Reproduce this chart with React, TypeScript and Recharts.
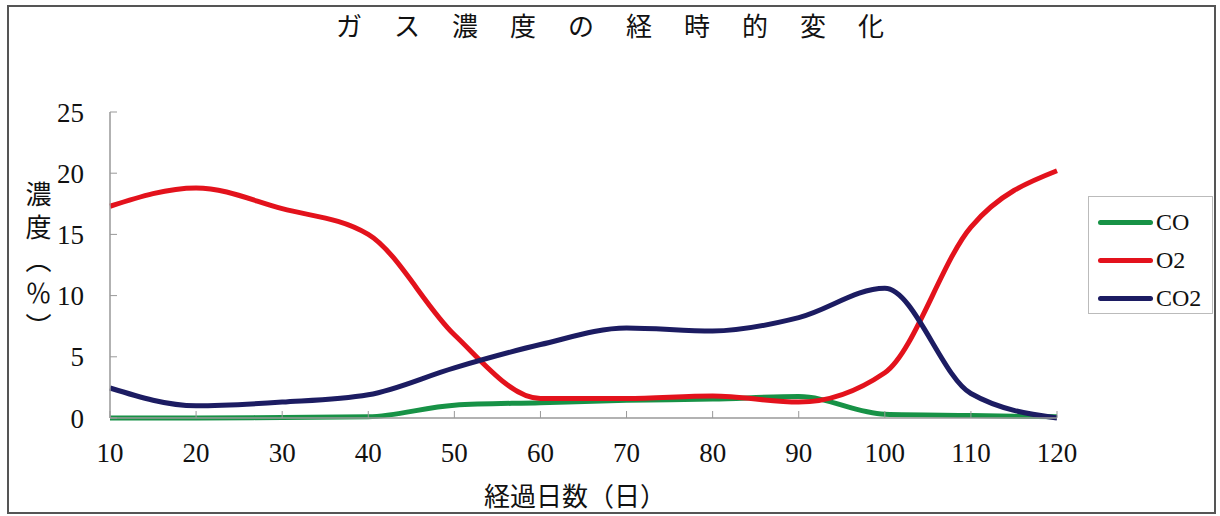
import { LineChart, Line, XAxis, YAxis, Legend } from "recharts";

const days = [10, 20, 30, 40, 50, 60, 70, 80, 90, 100, 110, 120];
const coValues = [0.0, 0.0, 0.05, 0.1, 1.05, 1.25, 1.45, 1.55, 1.75, 0.3, 0.2, 0.1];
const o2Values = [17.3, 18.8, 17.1, 15.0, 6.8, 1.6, 1.6, 1.8, 1.3, 3.7, 15.6, 20.2];
const co2Values = [2.45, 1.0, 1.3, 1.9, 4.1, 6.0, 7.35, 7.1, 8.2, 10.6, 2.0, 0.0];
const seriesNames = ["CO", "O2", "CO2"];
const xTicks = [10, 20, 30, 40, 50, 60, 70, 80, 90, 100, 110, 120];
const yTicks = [0, 5, 10, 15, 20, 25];

const data = days.map((d, i) => ({
  day: d,
  CO: coValues[i],
  O2: o2Values[i],
  CO2: co2Values[i],
}));

const FONT = "'Liberation Serif', 'Noto Sans CJK JP', serif";

function LegendBox({ payload }: any) {
  const items = [...(payload || [])].sort(
    (a: any, b: any) => seriesNames.indexOf(a.value) - seriesNames.indexOf(b.value)
  );
  return (
    <div
      style={{
        width: 125,
        height: 118,
        border: "1px solid #bbb",
        background: "#fff",
        boxSizing: "border-box",
        paddingTop: 6,
        paddingLeft: 9,
        fontFamily: FONT,
      }}
    >
      {items.map((p: any) => (
        <div
          key={p.value}
          style={{ display: "flex", alignItems: "center", height: 38 }}
        >
          <div
            style={{
              width: 55,
              height: 5,
              borderRadius: 3,
              background: p.color,
              marginRight: 3,
            }}
          />
          <span style={{ fontSize: 24, color: "#111" }}>{p.value}</span>
        </div>
      ))}
    </div>
  );
}

export default function App() {
  return (
    <div
      style={{
        position: "absolute",
        left: 0,
        top: 0,
        width: 1220,
        height: 516,
        background: "#fff",
        fontFamily: FONT,
      }}
    >
      <div
        style={{
          position: "absolute",
          left: 7,
          top: 5,
          width: 1209,
          height: 509,
          border: "2px solid #555",
          boxSizing: "border-box",
        }}
      />
      <div
        style={{
          position: "absolute",
          left: 0,
          width: 1220,
          top: 6,
          textAlign: "center",
          fontSize: 26,
          letterSpacing: 32,
          paddingLeft: 32,
          boxSizing: "border-box",
          color: "#111",
        }}
      >
        ガス濃度の経時的変化
      </div>
      <div
        style={{
          position: "absolute",
          left: 17,
          top: 181,
          writingMode: "vertical-rl",
          fontSize: 26,
          letterSpacing: 7,
          color: "#111",
        }}
      >
        濃度（％）
      </div>
      <div
        style={{
          position: "absolute",
          left: 475,
          top: 476,
          width: 200,
          textAlign: "center",
          fontSize: 26,
          color: "#111",
        }}
      >
        経過日数（日）
      </div>
      <div style={{ position: "absolute", left: 0, top: 0 }}>
        <LineChart
          width={1220}
          height={516}
          data={data}
          margin={{ top: 112, right: 163, bottom: 38, left: 50 }}
        >
          <XAxis
            dataKey="day"
            type="number"
            domain={[10, 120]}
            ticks={xTicks}
            height={60}
            tickSize={-7}
            tickMargin={32}
            axisLine={{ stroke: "#999", strokeWidth: 1.5 }}
            tickLine={{ stroke: "#999" }}
            tick={{ fontSize: 27, fill: "#111", fontFamily: FONT }}
          />
          <YAxis
            type="number"
            domain={[0, 25]}
            ticks={yTicks}
            width={60}
            tickSize={-7}
            tickMargin={33}
            axisLine={{ stroke: "#999", strokeWidth: 1.5 }}
            tickLine={{ stroke: "#999" }}
            tick={{ fontSize: 27, fill: "#111", fontFamily: FONT }}
          />
          <Legend
            layout="vertical"
            verticalAlign="middle"
            align="center"
            wrapperStyle={{ left: 1088, top: 196, width: 125 }}
            content={<LegendBox />}
          />
          <Line
            type="monotone"
            dataKey="CO"
            stroke="#179246"
            strokeWidth={5}
            dot={false}
            isAnimationActive={false}
          />
          <Line
            type="monotone"
            dataKey="O2"
            stroke="#e3121c"
            strokeWidth={5}
            dot={false}
            isAnimationActive={false}
          />
          <Line
            type="monotone"
            dataKey="CO2"
            stroke="#1c1c62"
            strokeWidth={5}
            dot={false}
            isAnimationActive={false}
          />
        </LineChart>
      </div>
    </div>
  );
}
